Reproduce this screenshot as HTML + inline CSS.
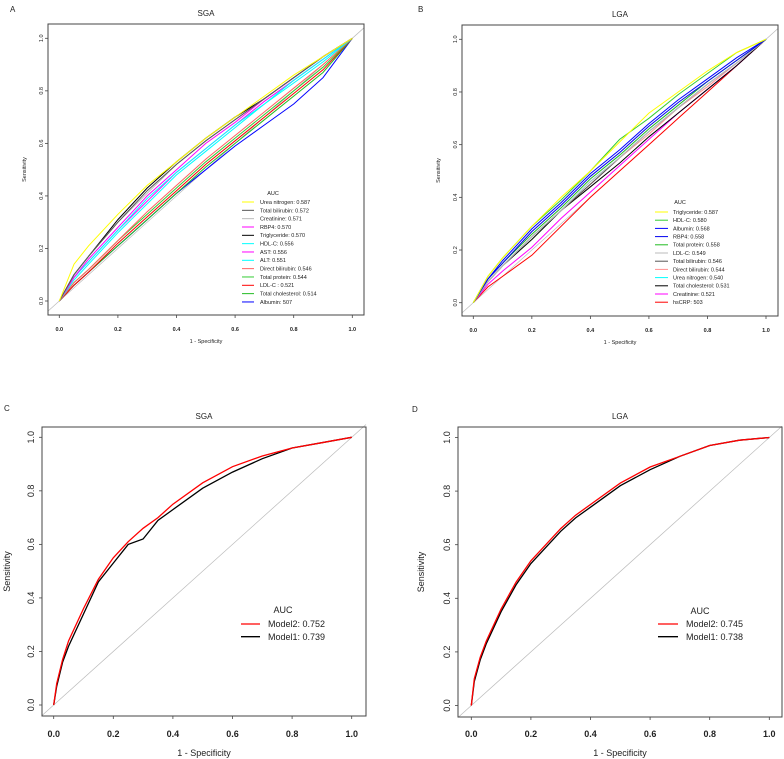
<!DOCTYPE html>
<html><head><meta charset="utf-8"><style>
body{margin:0;background:#fff}
svg{display:block;font-family:"Liberation Sans",sans-serif}
</style></head><body>
<svg id="fig" width="784" height="759" viewBox="0 0 784 759"></svg>
<script>
// ---------- DATA ----------
const gridAB = [0,0.05,0.1,0.2,0.3,0.4,0.5,0.6,0.7,0.8,0.9,1];
const seriesA_names = ["Urea nitrogen: 0.587","Total bilirubin: 0.572","Creatinine: 0.571","RBP4: 0.570","Triglyceride: 0.570","HDL-C: 0.556","AST: 0.556","ALT: 0.551","Direct bilirubin: 0.546","Total protein: 0.544","LDL-C : 0.521","Total cholesterol: 0.514","Albumin: 507"];
const seriesA_colors = ["#ffff00","#555555","#bbbbbb","#ff00ff","#000000","#00ffff","#ff00ff","#00ffff","#ff6060","#33cc33","#ff0000","#22bb22","#0000ff"];
const seriesA_values = [
 [0,0.14,0.21,0.33,0.44,0.53,0.62,0.70,0.78,0.86,0.93,1],
 [0,0.10,0.17,0.30,0.42,0.52,0.61,0.69,0.77,0.85,0.93,1],
 [0,0.10,0.17,0.30,0.41,0.52,0.61,0.69,0.77,0.85,0.93,1],
 [0,0.09,0.16,0.28,0.40,0.50,0.60,0.68,0.77,0.85,0.93,1],
 [0,0.10,0.17,0.31,0.43,0.53,0.62,0.70,0.77,0.85,0.93,1],
 [0,0.09,0.15,0.27,0.39,0.49,0.58,0.67,0.75,0.84,0.92,1],
 [0,0.09,0.15,0.27,0.38,0.49,0.58,0.67,0.76,0.84,0.92,1],
 [0,0.08,0.14,0.26,0.37,0.48,0.57,0.66,0.75,0.83,0.91,1],
 [0,0.07,0.12,0.23,0.34,0.44,0.54,0.63,0.72,0.81,0.90,1],
 [0,0.07,0.12,0.23,0.33,0.43,0.53,0.62,0.71,0.80,0.89,1],
 [0,0.06,0.11,0.22,0.32,0.42,0.52,0.61,0.70,0.79,0.88,1],
 [0,0.06,0.11,0.21,0.31,0.41,0.51,0.60,0.69,0.78,0.87,1],
 [0,0.06,0.11,0.21,0.31,0.41,0.50,0.59,0.67,0.75,0.85,1]
];
const seriesB_names = ["Triglyceride: 0.587","HDL-C: 0.580","Albumin: 0.568","RBP4: 0.558","Total protein: 0.558","LDL-C: 0.549","Total bilirubin: 0.546","Direct bilirubin: 0.544","Urea nitrogen: 0.540","Total cholesterol: 0.531","Creatinine: 0.521","hsCRP: 503"];
const seriesB_colors = ["#ffff00","#33cc33","#0000ff","#0000ee","#22bb22","#bbbbbb","#555555","#ff9090","#00ffff","#000000","#ff00ff","#ff0000"];
const seriesB_values = [
 [0,0.10,0.17,0.29,0.40,0.50,0.61,0.72,0.80,0.88,0.95,1],
 [0,0.10,0.17,0.29,0.39,0.50,0.62,0.70,0.79,0.87,0.95,1],
 [0,0.09,0.16,0.28,0.38,0.49,0.58,0.68,0.77,0.85,0.93,1],
 [0,0.09,0.15,0.27,0.37,0.48,0.57,0.67,0.76,0.84,0.92,1],
 [0,0.09,0.15,0.26,0.36,0.47,0.56,0.66,0.75,0.84,0.92,1],
 [0,0.08,0.14,0.25,0.35,0.46,0.55,0.65,0.74,0.83,0.91,1],
 [0,0.08,0.14,0.25,0.35,0.45,0.55,0.65,0.74,0.83,0.91,1],
 [0,0.08,0.14,0.25,0.35,0.45,0.55,0.64,0.74,0.82,0.91,1],
 [0,0.08,0.14,0.25,0.35,0.46,0.55,0.65,0.74,0.83,0.91,1],
 [0,0.08,0.14,0.24,0.35,0.44,0.53,0.63,0.72,0.81,0.90,1],
 [0,0.07,0.12,0.21,0.32,0.42,0.52,0.62,0.72,0.81,0.90,1],
 [0,0.06,0.10,0.18,0.29,0.40,0.50,0.60,0.70,0.80,0.90,1]
];
const gridCD = [0,0.01,0.03,0.05,0.1,0.15,0.2,0.25,0.3,0.35,0.4,0.5,0.6,0.7,0.8,0.9,1];
const seriesC_names = ["Model2: 0.752","Model1: 0.739"];
const seriesC_colors = ["#ff0000","#000000"];
const seriesC_values = [
 [0,0.08,0.17,0.24,0.36,0.47,0.55,0.61,0.66,0.70,0.75,0.83,0.89,0.93,0.96,0.98,1],
 [0,0.07,0.16,0.22,0.34,0.46,0.53,0.60,0.62,0.69,0.73,0.81,0.87,0.92,0.96,0.98,1]
];
const seriesD_names = ["Model2: 0.745","Model1: 0.738"];
const seriesD_colors = ["#ff0000","#000000"];
const seriesD_values = [
 [0,0.10,0.18,0.24,0.36,0.46,0.54,0.60,0.66,0.71,0.75,0.83,0.89,0.93,0.97,0.99,1],
 [0,0.09,0.17,0.23,0.35,0.45,0.53,0.59,0.65,0.70,0.74,0.82,0.88,0.93,0.97,0.99,1]
];
const ticks = [0,0.2,0.4,0.6,0.8,1.0];
const tickLabels = ["0.0","0.2","0.4","0.6","0.8","1.0"];

// ---------- LAYOUT ----------
const panels = [
 {id:"a",letter:"A",title:"SGA",lx:[10,6],box:[48,24,364,315],x0:59.3,x1:352.3,y0:301,y1:38.3,fs:5.5,tfs:8,tickY:331,ylabX:26,xlabY:343,grid:gridAB,names:seriesA_names,colors:seriesA_colors,vals:seriesA_values,leg:{auc:[273,193],y:202,dy:8.33,lx1:242,lx2:254,tx:260,fs:5.5},lw:1},
 {id:"b",letter:"B",title:"LGA",lx:[418,6],box:[462,25,778,316],x0:473.3,x1:766,y0:302.7,y1:39.3,fs:5.5,tfs:8,tickY:332,ylabX:440,xlabY:344,grid:gridAB,names:seriesB_names,colors:seriesB_colors,vals:seriesB_values,leg:{auc:[680,202],y:212,dy:8.2,lx1:655,lx2:668,tx:673,fs:5.5},lw:1},
 {id:"c",letter:"C",title:"SGA",lx:[4,405],box:[42,427,366,716],x0:53.7,x1:351.7,y0:705,y1:437.3,fs:9,tfs:8,tickY:737,ylabX:10,xlabY:756,grid:gridCD,names:seriesC_names,colors:seriesC_colors,vals:seriesC_values,leg:{auc:[283,610],y:624,dy:12.7,lx1:241,lx2:260,tx:268,fs:9},lw:1.3},
 {id:"d",letter:"D",title:"LGA",lx:[412,406],box:[458,427,782,717],x0:471.3,x1:769.3,y0:705.5,y1:437.5,fs:9,tfs:8,tickY:737,ylabX:424,xlabY:756,grid:gridCD,names:seriesD_names,colors:seriesD_colors,vals:seriesD_values,leg:{auc:[700,611],y:624,dy:12.7,lx1:658,lx2:678,tx:686,fs:9},lw:1.3}
];
const NS="http://www.w3.org/2000/svg";
const svg=document.getElementById("fig");
function mk(tag,attrs,parent,text){const e=document.createElementNS(NS,tag);for(const k in attrs)e.setAttribute(k,attrs[k]);if(text!==undefined)e.textContent=text;parent.appendChild(e);return e;}

panels.forEach(p=>{
 const g=mk("g",{},svg);
 
 
 const sx=v=>p.x0+v*(p.x1-p.x0), sy=v=>p.y0+v*(p.y1-p.y0);
 const L=mk("text",{x:p.lx[0],y:p.lx[1]+6,"font-size":8,fill:"#222"},g,p.letter);
 
 
 const T=mk("text",{x:(p.box[0]+p.box[2])/2,y:p.box[1]-8,"font-size":p.tfs,"text-anchor":"middle",fill:"#222"},g,p.title);
 
 
 // diagonal
 const dg=mk("line",{x1:p.box[0],y1:sy(-(p.x0-p.box[0])/(p.x1-p.x0)),x2:p.box[2],y2:sy(1+(p.box[2]-p.x1)/(p.x1-p.x0)),stroke:"#bbb","stroke-width":0.7},g);
 
 
 // curves (draw last-first so first on top)
 for(let i=p.vals.length-1;i>=0;i--){
  const d=p.vals[i].map((v,j)=>(j?"L":"M")+sx(p.grid[j]).toFixed(1)+","+sy(v).toFixed(1)).join("");
  const c=mk("path",{d:d,fill:"none",stroke:p.colors[i],"stroke-width":p.lw},g);
  
  
 }
 // box
 const bx=mk("rect",{x:p.box[0],y:p.box[1],width:p.box[2]-p.box[0],height:p.box[3]-p.box[1],fill:"none",stroke:"#444","stroke-width":1},g);
 
 
 ticks.forEach((t,k)=>{
  mk("line",{x1:sx(t),y1:p.box[3],x2:sx(t),y2:p.box[3]+3,stroke:"#444","stroke-width":0.8},g);
  const xt=mk("text",{x:sx(t),y:p.tickY,"font-size":p.fs,"font-weight":"bold","text-anchor":"middle",fill:"#222"},g,tickLabels[k]);
  
  
  mk("line",{x1:p.box[0],y1:sy(t),x2:p.box[0]-3,y2:sy(t),stroke:"#444","stroke-width":0.8},g);
  const yx=p.box[0]-p.fs*0.9;
  const yt=mk("text",{x:yx,y:sy(t),"font-size":p.fs,"text-anchor":"middle",fill:"#222",transform:`rotate(-90 ${yx} ${sy(t)})`},g,tickLabels[k]);
  
  
 });
 const xl=mk("text",{x:(p.box[0]+p.box[2])/2,y:p.xlabY,"font-size":p.fs,"text-anchor":"middle",fill:"#222"},g,"1 - Specificity");
 
 
 const cy=(p.box[1]+p.box[3])/2;
 const yl=mk("text",{x:p.ylabX,y:cy,"font-size":p.fs,"text-anchor":"middle",fill:"#222",transform:`rotate(-90 ${p.ylabX} ${cy})`},g,"Sensitivity");
 
 
 // legend
 const lg=mk("g",{},g);
 
 
 mk("text",{x:p.leg.auc[0],y:p.leg.auc[1]+p.leg.fs*0.35,"font-size":p.leg.fs,"text-anchor":"middle",fill:"#222"},lg,"AUC");
 p.names.forEach((n,i)=>{
  const y=p.leg.y+i*p.leg.dy;
  const e=mk("g",{},lg);
  
  
  mk("line",{x1:p.leg.lx1,y1:y,x2:p.leg.lx2,y2:y,stroke:p.colors[i],"stroke-width":p.lw},e);
  mk("text",{x:p.leg.tx,y:y+p.leg.fs*0.35,"font-size":p.leg.fs,fill:"#222"},e,n);
 });
});
</script>
</body></html>
